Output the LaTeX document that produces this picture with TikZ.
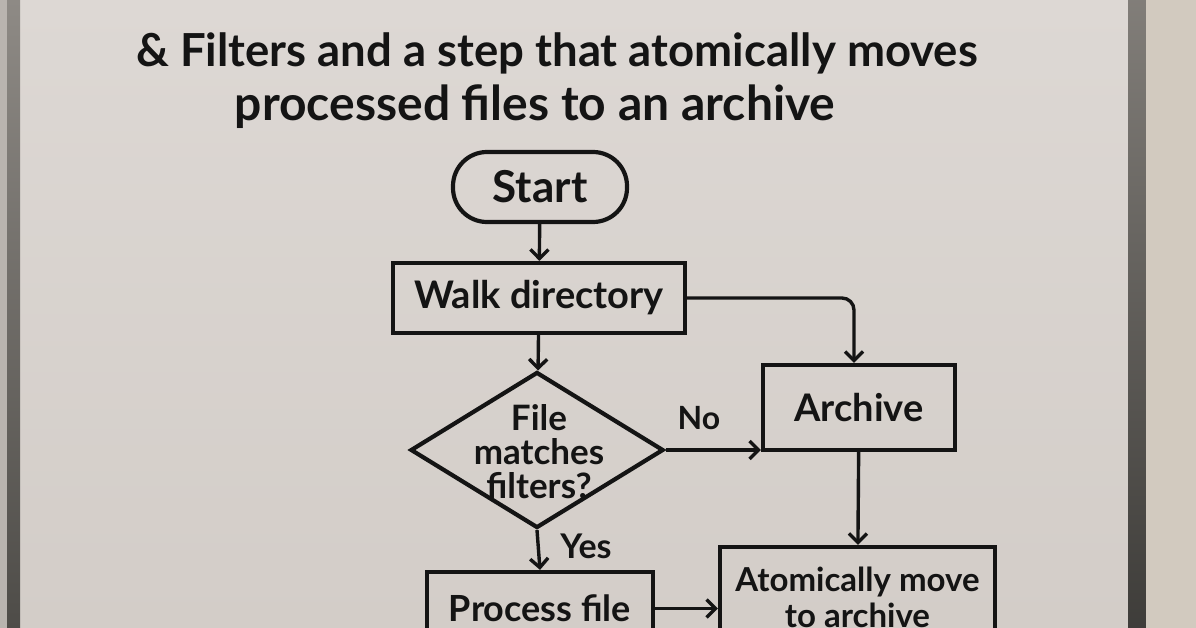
\documentclass[tikz,border=0pt]{standalone}
\usepackage{fontspec}
\setmainfont{Lato}
\usetikzlibrary{shapes.geometric,arrows.meta,calc}
\definecolor{ink}{HTML}{141414}
\definecolor{boardtop}{HTML}{DDD8D4}
\definecolor{boardbot}{HTML}{D3CDC8}
\definecolor{frameA}{HTML}{B9B4AF}
\definecolor{frameB}{HTML}{4E4C48}
\definecolor{frameC}{HTML}{8E8A85}
\definecolor{wall}{HTML}{D2CABF}
\newcommand{\fs}[1]{\fontsize{#1}{#1}\selectfont\bfseries}
\tikzset{
  titletext/.style={text=ink, inner sep=0pt},
  stepbox/.style={draw=ink, line width=4.2pt, text=ink, inner sep=0pt, align=center},
  startbox/.style={stepbox, rounded corners=34pt},
  decbox/.style={draw=ink, line width=4.2pt, diamond, inner sep=0pt},
  dectext/.style={text=ink, font={\fontsize{35}{34}\selectfont\bfseries}, align=center, inner sep=0pt},
  lbl/.style={text=ink, inner sep=0pt},
  arr/.style={draw=ink, line width=3.4pt, -{Straight Barb[length=9pt,width=18pt,line width=3.4pt]}},
}
\begin{document}
\begin{tikzpicture}[x=1pt,y=-1pt]
\useasboundingbox (0,0) rectangle (1196,628);
\clip (0,0) rectangle (1196,628);
% board and frame
\shade[top color=boardtop, bottom color=boardbot] (0,0) rectangle (1196,628);
\fill[frameA] (0,0) rectangle (7,628);
\shade[top color=frameC, bottom color=frameB] (7,0) rectangle (20,628);
\shade[top color=frameC!80!frameB, bottom color=frameB!80!black] (1128,0) rectangle (1146,628);
\fill[wall] (1146,0) rectangle (1196,628);
% title
\node[titletext, font=\fs{45.5}, anchor=base] (t2) at (557,67) {\& Filters and a step that atomically moves};
\node[titletext, font=\fs{48}, anchor=base] (t3) at (535,121) {processed files to an archive};
% nodes
\node[startbox, font=\fs{44}, minimum width=174pt, minimum height=70pt] (start) at (540,187) {Start};
\node[stepbox, font=\fs{38}, minimum width=292pt, minimum height=70pt] (walk) at (539,298) {Walk directory};
\node[decbox, minimum width=253pt, minimum height=156pt] (dec) at (537,450) {};
\node[dectext] (dect) at (539,452) {File\\matches\\filters?};
\node[stepbox, font=\fs{38}, minimum width=192pt, minimum height=85pt] (arch) at (859,407.5) {Archive};
\node[stepbox, font={\fontsize{33}{36}\selectfont\bfseries}, minimum width=275pt, minimum height=101pt] (atom) at (857.5,597.5) {Atomically move\\to archive};
\node[stepbox, font=\fs{36}, minimum width=226pt, minimum height=73pt] (proc) at (540,608.5) {Process file};
% labels
\node[lbl, font=\fs{32}] (no) at (699,418) {No};
\node[lbl, font=\fs{34}] (yes) at (586,546) {Yes};
% connectors
\draw[arr] (start) -- (walk);
\draw[arr] (walk) -- (dec);
\draw[arr, rounded corners=12pt] (walk.east) -| ($(arch.north)+(-5,0)$);
\draw[arr] (dec.east) -- (dec.east -| arch.west);
\draw[arr] (arch) -- (atom);
\draw[arr] (dec.south) -- (proc.north);
\draw[arr] (proc.east) -- (proc.east -| atom.west);
\end{tikzpicture}
\end{document}
